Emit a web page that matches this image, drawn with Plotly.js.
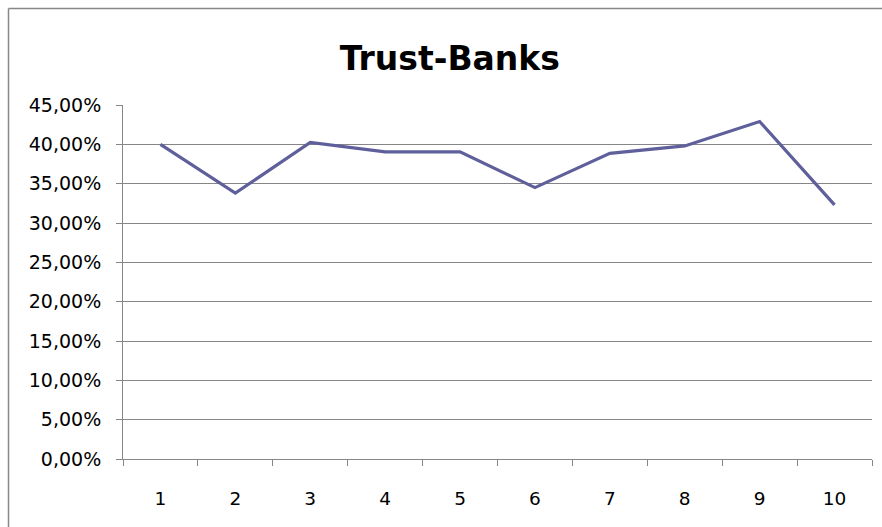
<!DOCTYPE html>
<html>
<head>
<meta charset="utf-8">
<script src="https://cdn.plot.ly/plotly-3.0.1.min.js"></script>
<style>
  html, body { margin: 0; padding: 0; background: #ffffff; }
  #chart { width: 882px; height: 527px; }
</style>
</head>
<body>
<div id="chart"></div>
<script>
const chartTitle = "Trust-Banks";
const categories = ["1", "2", "3", "4", "5", "6", "7", "8", "9", "10"];
const trustValues = [0.4000, 0.3380, 0.4025, 0.3905, 0.3905, 0.3450, 0.3885, 0.3980, 0.4290, 0.3230];
const yTickValues = [0, 0.05, 0.10, 0.15, 0.20, 0.25, 0.30, 0.35, 0.40, 0.45];

const W = 882, H = 527;
const M = { l: 123, r: 10, t: 105, b: 68 };
const pw = W - M.l - M.r, ph = H - M.t - M.b;
// outer frame (pixel -> paper)
const fx = px => (px - M.l) / pw;
const fy = py => (H - M.b - py) / ph;

const trace = {
  type: "scatter",
  mode: "lines",
  x: categories,
  y: trustValues,
  line: { color: "#5f5f9b", width: 3.2 },
  hoverinfo: "x+y"
};

const layout = {
  width: W, height: H,
  margin: M,
  paper_bgcolor: "#ffffff",
  plot_bgcolor: "#ffffff",
  separators: ", ",
  showlegend: false,
  font: { family: "DejaVu Sans, sans-serif", size: 18, color: "#000000" },
  title: {
    text: chartTitle,
    font: { family: "DejaVu Sans, sans-serif", size: 33, color: "#000000", weight: "bold" },
    xref: "container", x: 0.51, xanchor: "center",
    yref: "container", y: 1 - 58 / H, yanchor: "middle"
  },
  xaxis: {
    type: "category",
    categoryorder: "array",
    categoryarray: categories,
    range: [-0.5, categories.length - 0.5],
    tickson: "boundaries",
    ticks: "outside", ticklen: 6, tickwidth: 1, tickcolor: "#868686",
    showline: true, linecolor: "#868686", linewidth: 1,
    showgrid: false, zeroline: false,
    ticklabelstandoff: 23,
    tickfont: { family: "DejaVu Sans, sans-serif", size: 18.5, color: "#000000" },
    fixedrange: true
  },
  yaxis: {
    range: [0, 0.45],
    tickvals: yTickValues,
    tickformat: ".2%",
    ticks: "outside", ticklen: 6, tickwidth: 1, tickcolor: "#868686",
    showline: true, linecolor: "#868686", linewidth: 1,
    showgrid: true, gridcolor: "#868686", gridwidth: 1,
    zeroline: false,
    ticklabelstandoff: 11,
    tickfont: { family: "DejaVu Sans, sans-serif", size: 19, color: "#000000" },
    fixedrange: true
  },
  shapes: [
    { type: "line", xref: "paper", yref: "paper", x0: fx(8.5), x1: fx(900), y0: fy(8.5), y1: fy(8.5),
      line: { color: "#878787", width: 1.5 }, layer: "above" },
    { type: "line", xref: "paper", yref: "paper", x0: fx(8.5), x1: fx(8.5), y0: fy(8.5), y1: fy(540),
      line: { color: "#878787", width: 1.5 }, layer: "above" }
  ]
};

Plotly.newPlot("chart", [trace], layout, { displayModeBar: false, staticPlot: true });
</script>
</body>
</html>
